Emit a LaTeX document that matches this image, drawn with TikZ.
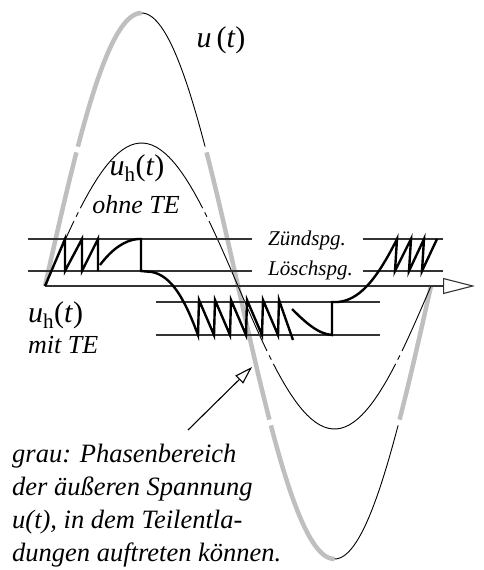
\documentclass[tikz,border=0pt]{standalone}
\usepackage{fontspec}
\setmainfont{Liberation Serif}
\usetikzlibrary{arrows.meta}
\begin{document}
\begin{tikzpicture}[x=1pt, y=-1pt,
        level/.style={line width=1.1pt, black!80},
        wave/.style={line width=2.4pt, black},
        usine/.style={line width=0.9pt, black},
        grau/.style={line width=4.5pt, black!25},
        lbl/.style={inner sep=0pt, font=\itshape\fontsize{21}{24}\selectfont},
        te/.style={inner sep=0pt, font=\itshape\fontsize{26}{30}\selectfont},
        big/.style={inner sep=0pt, font=\fontsize{30}{34}\selectfont}]
    \useasboundingbox (0,0) rectangle (483,570);
    % u(t): grey where partial discharges occur
    \foreach \a/\b in {0/29.3, 30.7/90, 150.7/209.3, 210.7/270, 330.7/360}
        \draw[grau] plot[domain=\a:\b, samples=30] ({45+1.0722*\x}, {286-273*sin(\x)});
    \foreach \a/\b in {90/149.3, 270/329.3}
        \draw[usine] plot[domain=\a:\b, samples=30] ({45+1.0722*\x}, {286-273*sin(\x)});
    % u_h(t) ohne TE
    \foreach \a/\b in {0/27, 29/31, 33/147, 149/151, 153/207, 209/211, 213/327, 329/331, 333/360}
        \draw[usine] plot[domain=\a:\b, samples=30] ({45+1.0722*\x}, {286-143*sin(\x)});
    % levels
    \draw[level] (28,239) -- (252,239) (363,239) -- (443,239);
    \draw[level] (28,271) -- (252,271) (363,271) -- (443,271);
    \draw[level] (156,302) -- (380,302) (156,335) -- (380,335);
    \coordinate (ax0) at (45,286);
    \coordinate (ax1) at (475,286);
    \draw[level, -{Triangle[open, length=32pt, width=16pt]}] (ax0) -- (ax1);
    % u_h(t) mit TE
    \draw[wave] (45,286) -- (65,239) -- (65,271) -- (82,239) -- (82,271) -- (98,239) -- (98,271);
    \draw[wave] (100,265) .. controls (112,249) and (125,240) .. (138,239) -- (141,239) -- (141,271)
        -- (152,272) .. controls (172,276) and (185,300) .. (198,335)
        -- (199,300) -- (214,335) -- (215,300) -- (230,335) -- (231,300) -- (246,335) -- (247,300)
        -- (262,335) -- (263,300) -- (278,335) -- (279,300) -- (293,340);
    \draw[wave] (292,309) .. controls (305,322) and (318,334) .. (332,335) -- (332,302) -- (338,302)
        .. controls (358,300) and (375,283) .. (397,239) -- (395,271) -- (411,239) -- (409,271)
        -- (424,239) -- (422,271) -- (437,239);
    % labels
    \node[big] (ut) at (221,40) {\textit{u}\,(\textit{t})};
    \node[big] (uho) at (137,168) {\textit{u}\textsubscript{h}(\textit{t})};
    \node[te] (ohne) at (136,205) {ohne TE};
    \node[lbl, anchor=west] (zuend) at (268,240) {Zündspg.};
    \node[lbl, anchor=west] (loesch) at (268,270) {Löschspg.};
    \node[big, anchor=west] (uhm) at (28,315) {\textit{u}\textsubscript{h}(\textit{t})};
    \node[te, anchor=west] (mit) at (28,345) {mit TE};
    \node[inner sep=0pt, anchor=north west, align=left, font=\itshape\fontsize{26.5}{33}\selectfont] (grau)
        at (12,444) {grau: Phasenbereich\\der äußeren Spannung\\u(t), in dem Teilentla-\\dungen auftreten können.};
    \coordinate (p0) at (188,430);
    \coordinate (p1) at (252,367);
    \draw[line width=1.1pt, -{Triangle[open, length=18pt, width=11pt]}] (p0) -- (p1);
\end{tikzpicture}
\end{document}
